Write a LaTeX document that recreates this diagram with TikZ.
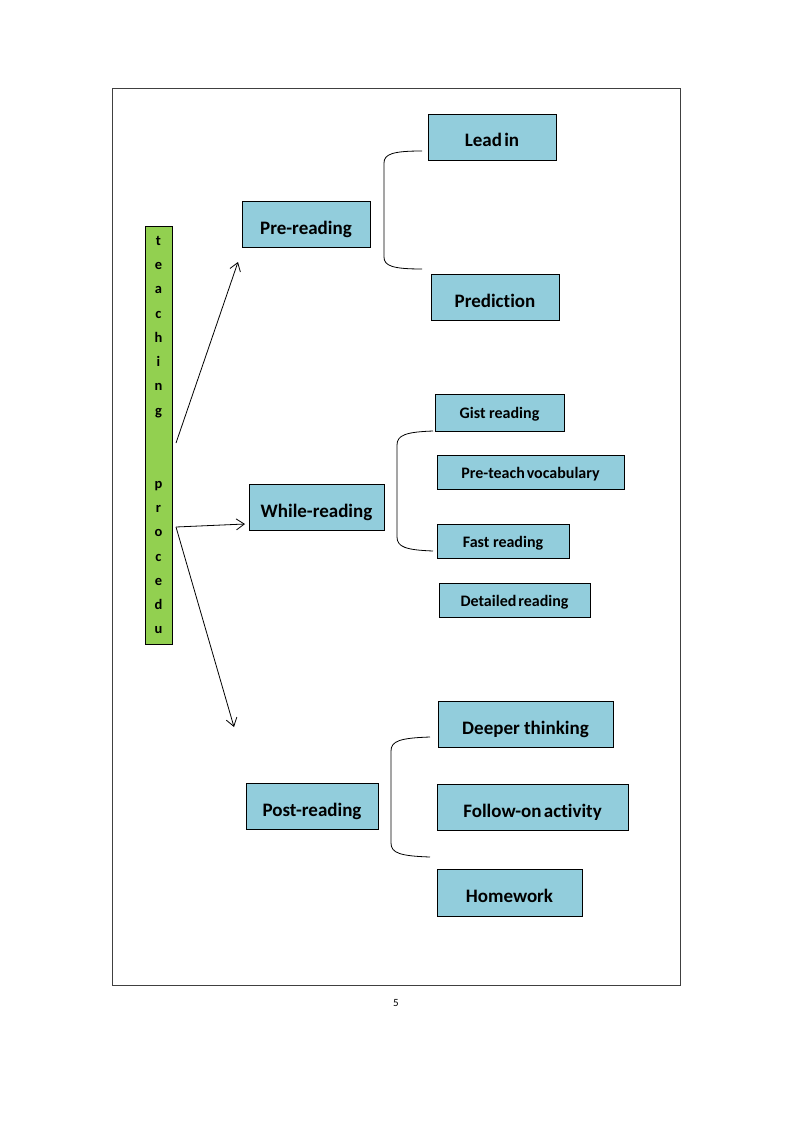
\documentclass[tikz,border=0pt]{standalone}
\usepackage{fontspec}
\setmainfont{Carlito}[Ligatures=NoCommon]
\usetikzlibrary{arrows.meta}
\definecolor{boxblue}{HTML}{92CDDC}
\definecolor{boxgreen}{HTML}{92D050}
\newcommand{\nsp}{\hspace{0.12em}}
\begin{document}
\begin{tikzpicture}[x=1pt,y=-1pt,
  bbox/.style={draw=black,line width=0.9pt,fill=boxblue,inner sep=0pt,text height=20pt,text depth=0pt,font=\bfseries\fontsize{19}{22}\selectfont},
  sbox/.style={draw=black,line width=0.9pt,fill=boxblue,inner sep=0pt,text height=14pt,text depth=2pt,font=\bfseries\fontsize{16}{18}\selectfont},
  conn/.style={line width=0.8pt,-{Straight Barb[length=8pt,width=11pt]}},
  brace/.style={line width=0.8pt}]
\useasboundingbox (0,0) rectangle (794,1123);
\draw[line width=0.9pt,draw=black!75] (112,88) rectangle (680,985);
\node[font=\fontsize{11}{12}\selectfont] (pg) at (396,1003) {5};
% green vertical box
\node[draw=black,line width=0.9pt,fill=boxgreen,minimum width=27pt,minimum height=418pt,inner sep=0pt,align=center,
  font=\bfseries\fontsize{14.5}{24.3}\selectfont] (tp) at (158.5,435)
  {t\\e\\a\\c\\h\\i\\n\\g\\~\\~\\p\\r\\o\\c\\e\\d\\u};
% main stages
\node[bbox,minimum width=128pt,minimum height=46pt] (pre) at (306,224) {Pre-reading};
\node[bbox,minimum width=135pt,minimum height=46pt] (while) at (316.5,507) {While-reading};
\node[bbox,minimum width=132pt,minimum height=46pt] (post) at (312,806) {Post-reading};
% pre-reading items
\node[bbox,minimum width=128pt,minimum height=46pt] (lead) at (492,137) {Lead\nsp in};
\node[bbox,minimum width=128pt,minimum height=46pt] (pred) at (495,297) {Prediction};
% while-reading items
\node[sbox,minimum width=129pt,minimum height=37pt] (gist) at (499.5,412.5) {Gist reading};
\node[sbox,minimum width=187pt,minimum height=34pt] (vocab) at (530.5,472) {Pre-teach\nsp vocabulary};
\node[sbox,minimum width=132pt,minimum height=34pt] (fast) at (503,541) {Fast reading};
\node[sbox,minimum width=151pt,minimum height=34pt] (det) at (514.5,600) {Detailed\nsp reading};
% post-reading items
\node[bbox,minimum width=175pt,minimum height=46pt] (deep) at (525.5,724) {Deeper thinking};
\node[bbox,minimum width=191pt,minimum height=46pt] (follow) at (532.5,807) {Follow-on\nsp activity};
\node[bbox,minimum width=145pt,minimum height=47pt] (home) at (509.5,892.5) {Homework};
% arrows
\coordinate (s1) at (176,443);
\coordinate (s2) at (176,527);
\coordinate (e1) at (238,262);
\coordinate (e2) at (245,524);
\coordinate (e3) at (234,727);
\draw[conn] (s1) -- (e1);
\draw[conn] (s2) -- (e2);
\draw[conn] (s2) -- (e3);
% braces
\coordinate (b1t) at (422,151);
\coordinate (b1b) at (422,269);
\draw[brace] (b1t) .. controls (393,151) and (384,154) .. (384,163) -- (384,257) .. controls (384,266) and (393,269) .. (b1b);
\coordinate (b2t) at (433,431);
\coordinate (b2b) at (433,551);
\draw[brace] (b2t) .. controls (406,432) and (397,435) .. (397,445) -- (397,537) .. controls (397,547) and (406,550) .. (b2b);
\coordinate (b3t) at (430,737);
\coordinate (b3b) at (430,857);
\draw[brace] (b3t) .. controls (400,738) and (391,741) .. (391,751) -- (391,843) .. controls (391,853) and (400,856) .. (b3b);
\end{tikzpicture}
\end{document}
